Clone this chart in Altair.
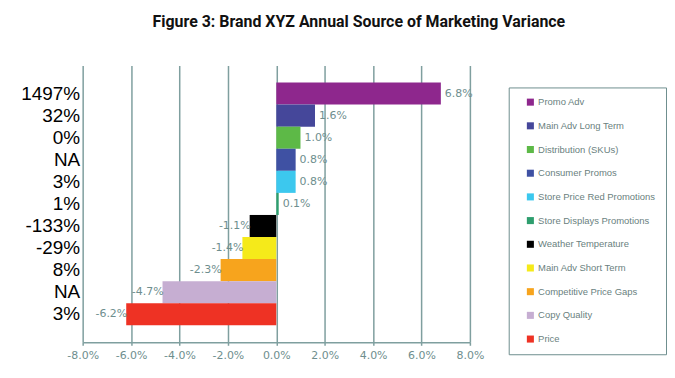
import altair as alt
import pandas as pd

names = ["Promo Adv", "Main Adv Long Term", "Distribution (SKUs)", "Consumer Promos",
         "Store Price Red Promotions", "Store Displays Promotions", "Weather Temperature",
         "Main Adv Short Term", "Competitive Price Gaps", "Copy Quality", "Price"]
values = [6.8, 1.6, 1.0, 0.8, 0.8, 0.1, -1.1, -1.4, -2.3, -4.7, -6.2]
row_labels = ["1497%", "32%", "0%", "NA", "3%", "1%", "-133%", "-29%", "8%", "NA", "3%"]
colors = ["#8E278D", "#45479A", "#5DB947", "#3F51A3", "#3CC8EE", "#2E9E6E",
          "#000000", "#F5EA1A", "#F7A41D", "#C6AED2", "#EE3224"]
x_ticks = [-0.08, -0.06, -0.04, -0.02, 0, 0.02, 0.04, 0.06, 0.08]

df = pd.DataFrame({"name": names, "value": [v / 100 for v in values],
                   "label": [f"{v:.1f}%" for v in values]})

grey = "#6E8E8E"
label_expr = "[" + ",".join(f"'{l}'" for l in row_labels) + "][indexof([" + \
    ",".join(f"'{n}'" for n in names) + "], datum.value)]"

x_enc = alt.X("value:Q", scale=alt.Scale(domain=[-0.08, 0.08], nice=False),
              axis=alt.Axis(values=x_ticks, labelOverlap=False, labelFlush=False,
                            labelExpr="replace(format(datum.value, '.1%'), '\u2212', '-')",
                            title=None, grid=True, gridColor="#7F9F9F", gridWidth=1.5,
                            domainColor="#7F9F9F", domainWidth=1.5, tickColor="#7F9F9F",
                            tickWidth=1.5, tickSize=3, labelColor=grey, labelFont="DejaVu Sans",
                            labelFontSize=11, labelPadding=4))
y_enc = alt.Y("name:N", sort=names,
              scale=alt.Scale(paddingInner=0, paddingOuter=0.77),
              axis=alt.Axis(title=None, labelExpr=label_expr, labelFont="Liberation Sans",
                            labelFontSize=19, labelColor="#000000", ticks=False, domain=False,
                            labelPadding=3, minExtent=70, maxExtent=70))

bars = alt.Chart(df).mark_bar().encode(
    x=x_enc, y=y_enc,
    color=alt.Color("name:N", sort=names,
                    scale=alt.Scale(domain=names, range=colors),
                    legend=alt.Legend(title=None, orient="none", legendX=428, legendY=22,
                                      symbolType="square", symbolSize=50, symbolStrokeWidth=0,
                                      labelFont="Liberation Sans", labelFontSize=9.5,
                                      labelColor="#6A7F80", labelLimit=300, rowPadding=12.8,
                                      padding=10, symbolOffset=7, labelOffset=3,
                                      strokeColor=grey, fillColor="white"))
)

pos = alt.Chart(df).transform_filter("datum.value >= 0").mark_text(
    align="left", dx=4, font="DejaVu Sans", fontSize=11, color=grey
).encode(x="value:Q", y=alt.Y("name:N", sort=names), text="label:N")

neg = alt.Chart(df).transform_filter("datum.value < 0").mark_text(
    align="right", dx=1, font="DejaVu Sans", fontSize=11, color=grey
).encode(x="value:Q", y=alt.Y("name:N", sort=names), text="label:N")

chart = alt.layer(bars, pos, neg).properties(
    width=389, height=278,
    padding={"left": 5, "top": 5, "right": 0, "bottom": 5},
    title=alt.TitleParams("Figure 3: Brand XYZ Annual Source of Marketing Variance",
                          font="Roboto", fontSize=16, fontWeight="bold",
                          color="#111111", anchor="middle", dx=83, offset=36)
).configure_view(stroke=None)

chart.save("out.html", embed_options={"renderer": "svg", "actions": False})
